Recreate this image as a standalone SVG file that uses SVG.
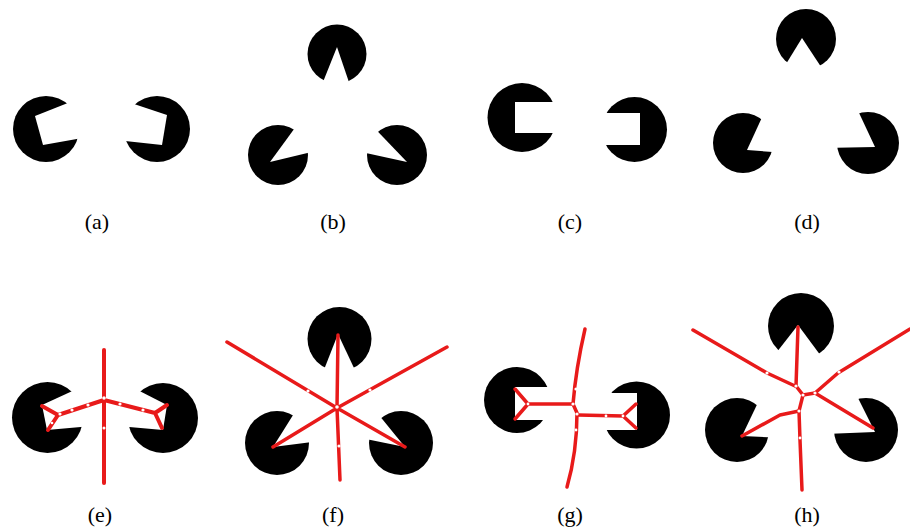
<svg xmlns="http://www.w3.org/2000/svg" width="910" height="530" viewBox="0 0 910 530">
<style>
.blk{fill:#000}
.cut{fill:#fff}
.red{fill:none;stroke:#e81a1a;stroke-width:3.5;stroke-linecap:round;stroke-linejoin:round}
.thick{stroke-width:4}
.gap{fill:#fff}
.lbl{font-family:"Liberation Serif","Times New Roman",serif;font-size:22px;fill:#000;text-anchor:middle}
</style>
<rect width="910" height="530" fill="#fff"/>

<g id="panel-a">
<circle class="blk" cx="46" cy="129" r="33"/>
<polygon class="cut" points="35,116 43,145 88,137 88,95"/>
<circle class="blk" cx="157" cy="129" r="33"/>
<polygon class="cut" points="167,115 162,145 116,140 116,98"/>
<text class="lbl" x="97" y="229">(a)</text>
</g>

<g id="panel-b">
<circle class="blk" cx="337" cy="54" r="29.5"/>
<polygon class="cut" points="337,47 317,97 354,97"/>
<circle class="blk" cx="278" cy="155" r="30"/>
<polygon class="cut" points="270,162 308,110 332,118 324,149"/>
<circle class="blk" cx="397" cy="155" r="30"/>
<polygon class="cut" points="407,162 360,113 338,120 343,148"/>
<text class="lbl" x="333" y="229">(b)</text>
</g>

<g id="panel-c">
<circle class="blk" cx="522" cy="117.5" r="34.5"/>
<rect class="cut" x="515" y="102" width="50" height="31"/>
<circle class="blk" cx="634.5" cy="129.5" r="32.5"/>
<rect class="cut" x="595" y="113" width="45" height="32"/>
<text class="lbl" x="570" y="229">(c)</text>
</g>

<g id="panel-d">
<circle class="blk" cx="806" cy="39" r="30"/>
<polygon class="cut" points="802,38 775,82 831,82"/>
<circle class="blk" cx="743" cy="143" r="30"/>
<polygon class="cut" points="747,150 769,102 787,108 787,153"/>
<circle class="blk" cx="868" cy="143" r="31"/>
<polygon class="cut" points="875,147 853,100 828,105 823,148"/>
<text class="lbl" x="807" y="229">(d)</text>
</g>

<g id="panel-e">
<circle class="blk" cx="47.5" cy="417.5" r="35.5"/>
<polygon class="cut" points="42,405 47,430 92,426 92,382"/>
<circle class="blk" cx="163" cy="418" r="35"/>
<polygon class="cut" points="167,405 163,430 118,426 118,380"/>
<g id="lines-e">
<path class="red thick" d="M104,350 V483"/>
<path class="red thick" d="M104,400 L58,415 M58,415 L42,406 M58,415 L48,430"/>
<path class="red thick" d="M104,400 L155,413 M155,413 L167,405 M155,413 L162,428"/>
<circle class="gap" cx="104" cy="398" r="1.8"/>
<circle class="gap" cx="104" cy="428" r="1.5"/>
<circle class="gap" cx="88" cy="405" r="1.6"/>
<circle class="gap" cx="72" cy="410" r="1.6"/>
<circle class="gap" cx="60" cy="414" r="1.6"/>
<circle class="gap" cx="120" cy="404" r="1.6"/>
<circle class="gap" cx="143" cy="410" r="1.6"/>
<circle class="gap" cx="52" cy="423" r="1.3"/>
</g>
<text class="lbl" x="100" y="522">(e)</text>
</g>

<g id="panel-f">
<circle class="blk" cx="339.5" cy="339" r="32"/>
<polygon class="cut" points="338,334 318,385 362,385"/>
<circle class="blk" cx="277" cy="443" r="32"/>
<polygon class="cut" points="273,447 300,404 320,410 320,441"/>
<circle class="blk" cx="401" cy="443" r="32"/>
<polygon class="cut" points="405,447 374,409 356,415 356,437"/>
<g id="lines-f">
<path class="red" d="M337,408 L338,335 M337,408 L273,447 M337,408 L405,447 M337,408 L340,480 M337,408 L227,342 M337,408 L447,347"/>
<circle class="gap" cx="337" cy="407" r="1.8"/>
<circle class="gap" cx="308" cy="391" r="1.6"/>
<circle class="gap" cx="370" cy="390" r="1.6"/>
<circle class="gap" cx="339" cy="446" r="1.6"/>
</g>
<text class="lbl" x="333" y="522">(f)</text>
</g>

<g id="panel-g">
<circle class="blk" cx="517" cy="400" r="33"/>
<rect class="cut" x="515" y="387" width="40" height="33"/>
<circle class="blk" cx="636.5" cy="415" r="33.5"/>
<rect class="cut" x="598" y="393" width="39" height="37"/>
<g id="lines-g">
<path class="red" d="M585,329 Q576,368 573,404 L577,413 Q577,452 567,487"/>
<path class="red" d="M528,404 L515,389 M528,404 L515,419 M528,404 L572,404"/>
<path class="red" d="M578,415 L623,416 M623,416 L636,404 M623,416 L636,428"/>
<circle class="gap" cx="576" cy="389" r="1.6"/>
<circle class="gap" cx="573" cy="404" r="1.6"/>
<circle class="gap" cx="577" cy="414" r="1.6"/>
<circle class="gap" cx="576" cy="430" r="1.4"/>
<circle class="gap" cx="606" cy="416" r="1.4"/>
<circle class="gap" cx="528" cy="404" r="1.4"/>
<circle class="gap" cx="623" cy="416" r="1.4"/>
</g>
<text class="lbl" x="570" y="522">(g)</text>
</g>

<g id="panel-h">
<circle class="blk" cx="801" cy="326" r="33"/>
<polygon class="cut" points="798,325 762,371 838,379"/>
<circle class="blk" cx="737" cy="430" r="32"/>
<polygon class="cut" points="742,436 763,392 785,395 785,438"/>
<circle class="blk" cx="866" cy="430" r="32"/>
<polygon class="cut" points="875,432 854,390 825,395 825,434"/>
<g id="lines-h">
<path class="red" d="M798,327 L796,386"/>
<path class="red" d="M693,330 L767,373 L795,386"/>
<path class="red" d="M796,386 L803,395 L815,393"/>
<path class="red" d="M815,393 L838,373 L910,329"/>
<path class="red" d="M815,393 L873,428"/>
<path class="red" d="M803,395 L799,411"/>
<path class="red" d="M799,411 L780,415 L742,436"/>
<path class="red" d="M799,411 L800,440 L802,490"/>
<circle class="gap" cx="767" cy="373" r="1.6"/>
<circle class="gap" cx="839" cy="372" r="1.6"/>
<circle class="gap" cx="796" cy="386" r="1.6"/>
<circle class="gap" cx="803" cy="395" r="1.6"/>
<circle class="gap" cx="815" cy="393" r="1.6"/>
<circle class="gap" cx="799" cy="411" r="1.6"/>
<circle class="gap" cx="800" cy="438" r="1.4"/>
</g>
<text class="lbl" x="807" y="522">(h)</text>
</g>
</svg>
